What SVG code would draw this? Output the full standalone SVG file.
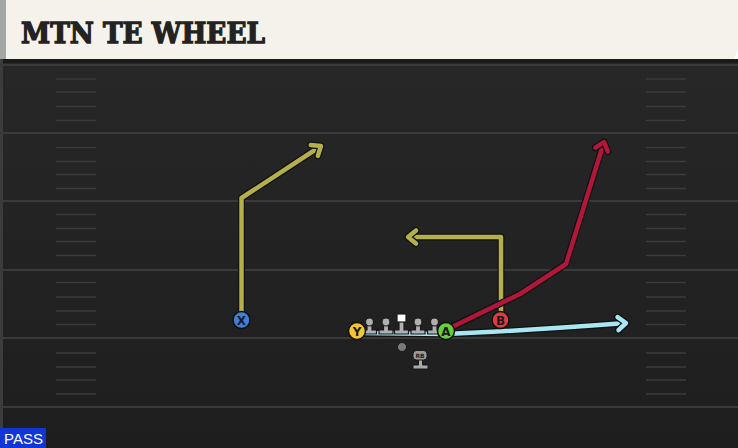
<svg xmlns="http://www.w3.org/2000/svg" width="738" height="448" viewBox="0 0 738 448">
<defs>
<linearGradient id="fieldg" x1="0" y1="0" x2="0" y2="1">
<stop offset="0" stop-color="#272727"/>
<stop offset="1" stop-color="#1e1e1e"/>
</linearGradient>
<marker id="arY" markerUnits="userSpaceOnUse" viewBox="-12 -10 16 20" refX="0" refY="0" markerWidth="16" markerHeight="20" orient="auto" overflow="visible">
<path d="M-8,-6.5 L0,0 L-8,6.5" fill="none" stroke="#111" stroke-width="7" stroke-linecap="round" stroke-linejoin="round"/>
<path d="M-8,-6.5 L0,0 L-8,6.5" fill="none" stroke="#b3b04c" stroke-width="4.5" stroke-linecap="round" stroke-linejoin="round"/>
</marker>
<marker id="arR" markerUnits="userSpaceOnUse" viewBox="-12 -10 16 20" refX="0" refY="0" markerWidth="16" markerHeight="20" orient="auto" overflow="visible">
<path d="M-8,-6.5 L0,0 L-8,6.5" fill="none" stroke="#111" stroke-width="7" stroke-linecap="round" stroke-linejoin="round"/>
<path d="M-8,-6.5 L0,0 L-8,6.5" fill="none" stroke="#b1173b" stroke-width="4.5" stroke-linecap="round" stroke-linejoin="round"/>
</marker>
<marker id="arC" markerUnits="userSpaceOnUse" viewBox="-12 -10 16 20" refX="0" refY="0" markerWidth="16" markerHeight="20" orient="auto" overflow="visible">
<path d="M-8,-6.5 L0,0 L-8,6.5" fill="none" stroke="#111" stroke-width="7" stroke-linecap="round" stroke-linejoin="round"/>
<path d="M-8,-6.5 L0,0 L-8,6.5" fill="none" stroke="#a8e6f2" stroke-width="4.5" stroke-linecap="round" stroke-linejoin="round"/>
</marker>
</defs>
<style>
.yard{stroke:#3a3a3a;stroke-width:2}
.hash{stroke:#3b3b3b;stroke-width:1.5}
.out{fill:none;stroke:#111;stroke-width:7;stroke-linejoin:round}
.ry{fill:none;stroke:#b3b04c;stroke-width:4.5;stroke-linejoin:round}
.rr{fill:none;stroke:#b1173b;stroke-width:4.5;stroke-linejoin:round}
.rc{fill:none;stroke:#a8e6f2;stroke-width:4.5;stroke-linejoin:round}
.pl{stroke:#1a1a1a;stroke-width:1.2}
.lbl{font-family:"DejaVu Sans","Liberation Sans",sans-serif;font-weight:bold;font-size:12px;fill:#1a1a1a;text-anchor:middle}
.ol{fill:#b0b0b0}
.plc{stroke:#111;stroke-width:1.5}
</style>
<!-- field -->
<rect x="0" y="59" width="738" height="389" fill="url(#fieldg)"/>
<rect x="0" y="59" width="738" height="4" fill="#1a1a1a"/>
<rect x="0" y="59" width="3" height="389" fill="#3c3c3c"/>
<g id="yardlines">
<line class="yard" x1="0" y1="65" x2="738" y2="65"/>
<line class="yard" x1="0" y1="133" x2="738" y2="133"/>
<line class="yard" x1="0" y1="201" x2="738" y2="201"/>
<line class="yard" x1="0" y1="270" x2="738" y2="270"/>
<line class="yard" x1="0" y1="338" x2="738" y2="338"/>
<line class="yard" x1="0" y1="407" x2="738" y2="407"/>
</g>
<g id="hashes">
<path class="hash" d="M56,79H96M56,92H96M56,106.5H96M56,120.5H96M56,147.5H96M56,161.5H96M56,174.5H96M56,188.5H96M56,214.5H96M56,228.5H96M56,241.5H96M56,255.5H96M56,282.5H96M56,297H96M56,311H96M56,324.5H96M56,353H96M56,367H96M56,380H96M56,394H96"/>
<path class="hash" d="M646,79H686M646,92H686M646,106.5H686M646,120.5H686M646,147.5H686M646,161.5H686M646,174.5H686M646,188.5H686M646,214.5H686M646,228.5H686M646,241.5H686M646,255.5H686M646,282.5H686M646,297H686M646,311H686M646,324.5H686M646,353H686M646,367H686M646,380H686M646,394H686"/>
</g>
<!-- header -->
<g id="header">
<polygon points="0,0 738,0 738,50 734,59 0,59" fill="#f5f2eb"/>
<rect x="0" y="0" width="6" height="59" fill="#a3a8a6"/>
<text x="21" y="42.5" font-family="'DejaVu Serif','Liberation Serif',serif" font-weight="bold" font-size="28" fill="#222" stroke="#222" stroke-width="1.3" textLength="244" lengthAdjust="spacingAndGlyphs">MTN TE WHEEL</text>
</g>
<!-- connectors -->
<g id="routes">
<path class="out" d="M241.5,312 V198 L321,146"/>
<path class="ry" d="M241.5,312 V198 L321,146" marker-end="url(#arY)"/>
<path class="out" d="M501,312 V237 H408"/>
<path class="ry" d="M501,312 V237 H408" marker-end="url(#arY)"/>
<path class="out" d="M450,328 L520,294 L566,264 L604,142"/>
<path class="rr" d="M450,328 L520,294 L566,264 L604,142" marker-end="url(#arR)"/>
<path class="out" d="M364,333 L446,334 Q520,331 626,323"/>
<path class="rc" d="M364,333 L446,334 Q520,331 626,323" marker-end="url(#arC)"/>
</g>
<!-- line -->
<g id="oline">
<g id="lt"><path class="ol pl" d="M367,323 h5 v7 h4.5 v4 h-14 v-4 h4.5 z"/><circle class="ol pl" cx="369.5" cy="322" r="4"/></g>
<g id="lg"><path class="ol pl" d="M383.5,323 h5 v7 h4.5 v4 h-14 v-4 h4.5 z"/><circle class="ol pl" cx="386" cy="322" r="4"/></g>
<g id="c"><path class="ol pl" d="M399,321 h5 v9 h4.5 v4 h-14 v-4 h4.5 z"/><rect x="397" y="314" width="9" height="8" fill="#ffffff" stroke="#1a1a1a" stroke-width="1.2"/></g>
<g id="rg"><path class="ol pl" d="M415.5,323 h5 v7 h4.5 v4 h-14 v-4 h4.5 z"/><circle class="ol pl" cx="418" cy="322" r="4"/></g>
<g id="rt"><path class="ol pl" d="M432,323 h5 v7 h4.5 v4 h-14 v-4 h4.5 z"/><circle class="ol pl" cx="434.5" cy="322" r="4"/></g>
</g>
<g id="qb"><circle cx="402" cy="347" r="4.5" fill="#7a7a7a" stroke="#1a1a1a" stroke-width="1"/></g>
<g id="rb">
<path d="M418.5,359 h4 v6 h5.5 v4 h-15 v-4 h5.5 z" fill="#a9a9a9" stroke="#1a1a1a" stroke-width="1"/>
<rect x="413" y="350.5" width="14" height="9.5" rx="3.5" fill="#9a9a9a" stroke="#1a1a1a" stroke-width="1"/>
<text x="420" y="358" font-family="'DejaVu Sans','Liberation Sans',sans-serif" font-weight="bold" font-size="6" fill="#222" text-anchor="middle">RB</text>
</g>
<g id="X"><circle class="plc" cx="241.5" cy="320" r="8.5" fill="#3f7fd8"/><text class="lbl" x="241.5" y="324.5">X</text></g>
<g id="Y"><circle class="plc" cx="357" cy="331" r="8.5" fill="#f2c533"/><text class="lbl" x="357" y="335.5">Y</text></g>
<g id="A"><circle class="plc" cx="446" cy="331" r="8.5" fill="#6acd3c"/><text class="lbl" x="446" y="335.5">A</text></g>
<g id="B"><circle class="plc" cx="500.5" cy="320" r="8.5" fill="#e03a40"/><text class="lbl" x="500.5" y="324.5">B</text></g>
<g id="pass">
<rect x="0" y="428" width="46" height="20" fill="#1235d6"/>
<text x="4" y="444" font-family="'Liberation Sans','DejaVu Sans',sans-serif" font-size="15" fill="#ffffff">PASS</text>
</g>
</svg>
